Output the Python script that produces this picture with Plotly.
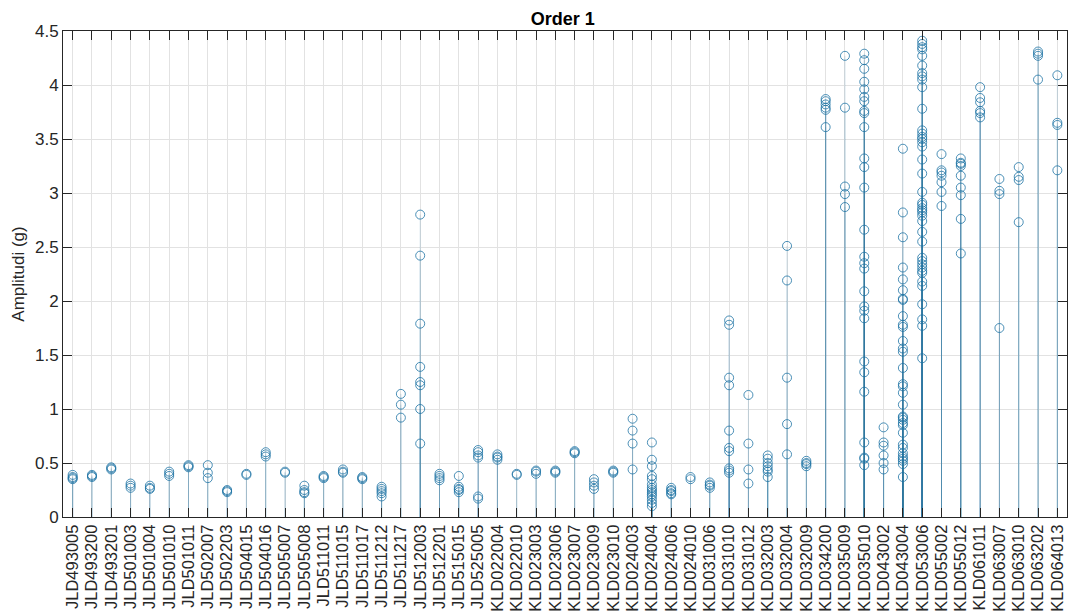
import plotly.graph_objects as go

# Station identifiers along the x axis
stations = [
    "JLD493005", "JLD493200", "JLD493201", "JLD501003", "JLD501004", "JLD501010",
    "JLD501011", "JLD502007", "JLD502203", "JLD504015", "JLD504016", "JLD505007",
    "JLD505008", "JLD511011", "JLD511015", "JLD511017", "JLD511212", "JLD511217",
    "JLD512003", "JLD512201", "JLD515015", "JLD525005", "KLD022004", "KLD022010",
    "KLD023003", "KLD023006", "KLD023007", "KLD023009", "KLD023010", "KLD024003",
    "KLD024004", "KLD024006", "KLD024010", "KLD031006", "KLD031010", "KLD031012",
    "KLD032003", "KLD032004", "KLD032009", "KLD034200", "KLD035009", "KLD035010",
    "KLD043002", "KLD043004", "KLD053006", "KLD055002", "KLD055012", "KLD061011",
    "KLD063007", "KLD063010", "KLD063202", "KLD064013",
]

# Order-1 amplitudes (g) recorded at each station
amplitudes = [
    [0.39, 0.37, 0.36, 0.35],
    [0.39, 0.38, 0.37],
    [0.46, 0.45, 0.44],
    [0.31, 0.29, 0.27],
    [0.29, 0.27, 0.26],
    [0.42, 0.40, 0.38],
    [0.48, 0.47, 0.46],
    [0.48, 0.41, 0.36],
    [0.25, 0.24, 0.23],
    [0.40, 0.39],
    [0.60, 0.58, 0.56],
    [0.42, 0.41],
    [0.29, 0.25, 0.23, 0.22],
    [0.38, 0.37, 0.36],
    [0.44, 0.42, 0.41],
    [0.37, 0.36, 0.35],
    [0.28, 0.26, 0.24, 0.22, 0.19],
    [1.14, 1.04, 0.92],
    [2.80, 2.42, 1.79, 1.39, 1.25, 1.22, 1.00, 0.68],
    [0.40, 0.38, 0.36, 0.34],
    [0.38, 0.28, 0.26, 0.25, 0.23],
    [0.62, 0.60, 0.57, 0.55, 0.19, 0.17],
    [0.58, 0.56, 0.55, 0.53],
    [0.40, 0.39],
    [0.43, 0.42, 0.40],
    [0.43, 0.42, 0.41],
    [0.61, 0.60, 0.59],
    [0.35, 0.32, 0.29, 0.26],
    [0.43, 0.42, 0.41],
    [0.91, 0.80, 0.68, 0.44],
    [0.69, 0.53, 0.47, 0.38, 0.35, 0.30, 0.27, 0.25, 0.23, 0.21, 0.19, 0.16, 0.13, 0.10],
    [0.27, 0.25, 0.24, 0.22, 0.21],
    [0.37, 0.35],
    [0.32, 0.30, 0.29, 0.27],
    [1.82, 1.78, 1.29, 1.22, 0.80, 0.64, 0.61, 0.45, 0.43, 0.41],
    [1.13, 0.68, 0.44, 0.31],
    [0.57, 0.54, 0.50, 0.47, 0.44, 0.42, 0.37],
    [2.51, 2.19, 1.29, 0.86, 0.58],
    [0.52, 0.50, 0.49, 0.47],
    [3.87, 3.85, 3.82, 3.79, 3.77, 3.61],
    [4.27, 3.79, 3.06, 2.99, 2.87],
    [4.29, 4.23, 4.15, 4.03, 3.96, 3.89, 3.85, 3.76, 3.74, 3.61, 3.32, 3.24, 3.05,
     2.66, 2.41, 2.35, 2.30, 2.09, 1.95, 1.91, 1.84, 1.44, 1.34, 1.16, 0.69, 0.55,
     0.54, 0.48],
    [0.83, 0.69, 0.66, 0.57, 0.50, 0.44],
    [3.41, 2.82, 2.59, 2.31, 2.20, 2.10, 2.02, 2.01, 1.86, 1.78, 1.76, 1.63, 1.56,
     1.53, 1.38, 1.23, 1.21, 1.15, 1.04, 0.93, 0.92, 0.90, 0.87, 0.85, 0.78, 0.67,
     0.64, 0.59, 0.56, 0.54, 0.52, 0.49, 0.37],
    [4.41, 4.38, 4.35, 4.33, 4.27, 4.18, 4.11, 4.08, 4.05, 3.98, 3.78, 3.58, 3.55,
     3.52, 3.50, 3.47, 3.43, 3.31, 3.18, 3.01, 2.91, 2.89, 2.86, 2.84, 2.82, 2.79,
     2.74, 2.64, 2.55, 2.40, 2.37, 2.34, 2.31, 2.28, 2.26, 2.18, 2.14, 1.97, 1.83,
     1.77, 1.47],
    [3.36, 3.21, 3.19, 3.16, 3.10, 3.01, 2.88],
    [3.32, 3.28, 3.27, 3.25, 3.16, 3.05, 2.98, 2.76, 2.44],
    [3.98, 3.88, 3.84, 3.76, 3.74, 3.70],
    [3.13, 3.02, 2.99, 1.75],
    [3.24, 3.15, 3.12, 2.73],
    [4.31, 4.29, 4.27, 4.05],
    [4.09, 3.65, 3.63, 3.21],
]

y_ticks = [0, 0.5, 1, 1.5, 2, 2.5, 3, 3.5, 4, 4.5]
y_tick_text = ["0", "0.5", "1", "1.5", "2", "2.5", "3", "3.5", "4", "4.5"]

STEM = "rgba(50,125,165,0.22)"
MARK = "rgb(30,115,165)"
TEXT = "#262626"
FONT = "Liberation Sans, Arial, sans-serif"

fig = go.Figure()

# One stem layer per event rank so overlapping stems build up in tone
max_n = max(len(v) for v in amplitudes)
for k in range(max_n):
    xs, ys = [], []
    for i, vals in enumerate(amplitudes):
        if k < len(vals):
            xs += [i, i, None]
            ys += [0, vals[k], None]
    fig.add_trace(go.Scatter(
        x=xs, y=ys, mode="lines",
        line=dict(color=STEM, width=1),
        hoverinfo="skip", showlegend=False,
    ))

# Circle markers at each amplitude
px, py = [], []
for i, vals in enumerate(amplitudes):
    for v in vals:
        px.append(i)
        py.append(v)
fig.add_trace(go.Scatter(
    x=px, y=py, mode="markers",
    marker=dict(symbol="circle-open", size=9, color=MARK, line=dict(width=0.8, color=MARK)),
    showlegend=False,
))

axis_common = dict(
    showline=True, linecolor=TEXT, linewidth=1, mirror="ticks",
    ticks="inside", ticklen=9, tickcolor=TEXT, tickwidth=1,
    showgrid=True, gridcolor="#e2e2e2", gridwidth=1, zeroline=False,
)

fig.update_xaxes(
    range=[-0.5, len(stations) - 0.5],
    tickmode="array", tickvals=list(range(len(stations))), ticktext=stations,
    tickangle=-90,
    tickfont=dict(family=FONT, size=16.5, color=TEXT),
    **axis_common,
)
fig.update_yaxes(
    range=[0, 4.5],
    tickmode="array", tickvals=y_ticks, ticktext=y_tick_text,
    tickfont=dict(family=FONT, size=17, color=TEXT),
    title=dict(text="Amplitudi (g)", standoff=6,
               font=dict(family=FONT, size=17, color=TEXT)),
    **axis_common,
)

fig.update_layout(
    width=1068, height=615,
    margin=dict(l=63, r=1, t=31, b=98),
    plot_bgcolor="white", paper_bgcolor="white",
    title=dict(text="<b>Order 1</b>", x=0.527, xanchor="center", y=0.969, yanchor="middle",
               font=dict(family=FONT, size=18, color="black")),
    showlegend=False,
)

fig.write_html("out.html")
